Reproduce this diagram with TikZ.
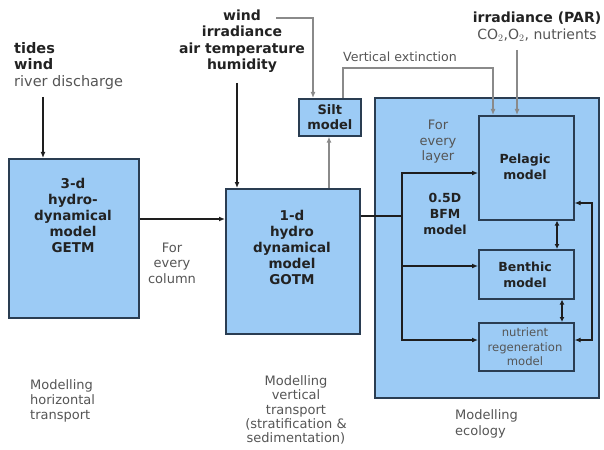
\documentclass[tikz,border=0pt]{standalone}
\usepackage{fontspec}
\setmainfont{DejaVu Sans}
\usetikzlibrary{arrows.meta}
\definecolor{boxfill}{HTML}{9CCBF5}
\definecolor{boxline}{HTML}{2A3D52}
\definecolor{conn}{HTML}{1E1E1E}
\definecolor{greyconn}{HTML}{8A8A8A}
\definecolor{txt}{HTML}{222222}
\definecolor{txtgrey}{HTML}{555555}
\tikzset{
  mbox/.style={draw=boxline, fill=boxfill, line width=1.6pt, inner sep=0pt},
  lbl/.style={align=center, inner sep=0pt, text=txt, font=\fontsize{14}{16.5}\selectfont\bfseries},
  boxlbl/.style={align=center, inner sep=0pt, text=txt, font=\fontsize{13.5}{16}\selectfont\bfseries},
  inlbl/.style={align=center, inner sep=0pt, text=txt, font=\fontsize{12.5}{16.5}\selectfont\bfseries},
  plain/.style={align=center, inner sep=0pt, text=txtgrey, font=\fontsize{13}{15.5}\selectfont},
  small/.style={align=center, inner sep=0pt, text=txtgrey, font=\fontsize{13}{15}\selectfont},
  conn/.style={draw=conn, line width=1.3pt, -{Latex[length=6pt,width=5pt]}},
  gconn/.style={draw=greyconn, line width=1.2pt, -{Latex[length=6pt,width=5pt]}},
}
\begin{document}
\begin{tikzpicture}[x=1pt,y=-1pt]
\useasboundingbox (0,0) rectangle (604,449);
% boxes
\node[mbox, minimum width=130pt, minimum height=159pt, anchor=north west] (getm) at (8,158) {};
\node[mbox, minimum width=134pt, minimum height=145pt, anchor=north west] (gotm) at (225,188) {};
\node[mbox, minimum width=62pt, minimum height=37pt, anchor=north west] (silt) at (298,98) {};
\node[mbox, minimum width=224pt, minimum height=300pt, anchor=north west] (eco) at (374,97) {};
\node[mbox, minimum width=95pt, minimum height=104pt, anchor=north west] (pel) at (478,115) {};
\node[mbox, minimum width=95pt, minimum height=49pt, anchor=north west] (ben) at (478,249) {};
\node[mbox, minimum width=95pt, minimum height=48pt, anchor=north west] (nut) at (478,322) {};
% box texts
\node[boxlbl] (getmt) at (73,215) {3-d\\hydro-\\dynamical\\model\\GETM};
\node[boxlbl] (gotmt) at (292,247) {1-d\\hydro\\dynamical\\model\\GOTM};
\node[inlbl, font=\fontsize{13}{15}\selectfont\bfseries] (siltt) at (silt.center) {Silt\\model};
\node[inlbl] (pelt) at (525,167) {Pelagic\\model};
\node[inlbl] (bent) at (525,275) {Benthic\\model};
\node[small, font=\fontsize{11.6}{14.5}\selectfont] (nutt) at (525,347) {nutrient\\regeneration\\model};
\node[inlbl, font=\fontsize{12.5}{16}\selectfont\bfseries] (bfm) at (445,214) {0.5D\\BFM\\model};
\node[plain] (layer) at (438,142) {For\\every\\layer};
% outside texts
\node[lbl, align=left, anchor=west, font=\fontsize{14.5}{16.5}\selectfont\bfseries] (tides) at (14,66) {tides\\wind\\\mdseries\color{txtgrey}river discharge};
\node[lbl] (atm) at (242,41) {wind\\irradiance\\air temperature\\humidity};
\node[lbl] (par) at (537,27) {irradiance (PAR)\\\mdseries\color{txtgrey}CO$_2$,O$_2$, nutrients};
\node[small, font=\fontsize{12.6}{15}\selectfont] (vext) at (400,57) {Vertical extinction};
\node[plain] (col) at (172,263) {For\\every\\column};
\node[small, align=left, anchor=west, font=\fontsize{13}{15}\selectfont] (mh) at (30,401) {Modelling\\horizontal\\transport};
\node[small, font=\fontsize{13}{14.2}\selectfont] (mv) at (296,410) {Modelling\\vertical\\transport\\(stratification \&\\sedimentation)};
\node[small, align=left, anchor=west, font=\fontsize{13}{16}\selectfont] (me) at (455,424) {Modelling\\ecology};
% coordinates
\coordinate (tidesend) at (43,97);
\coordinate (atmend) at (237,83);
\coordinate (windend) at (276,18);
\coordinate (parend) at (517,50);
% connectors
\draw[conn] (tidesend) -- (tidesend |- getm.north);
\draw[conn] (atmend) -- (atmend |- gotm.north);
\draw[gconn] (windend) -| (silt.north -| 313,0);
\draw[gconn] (gotm.north -| 329,0) -- (silt.south -| 329,0);
\draw[gconn] (silt.north -| 343,0) |- (493,68) -- (pel.north -| 493,0);
\draw[gconn] (parend) -- (pel.north -| parend);
\draw[conn] (getm.east |- 0,219) -- (gotm.west |- 0,219);
\draw[conn] (gotm.east |- 0,216) -- (402,216) |- (pel.west |- 0,173);
\draw[conn] (402,216) |- (ben.west |- 0,266);
\draw[conn] (402,266) |- (nut.west |- 0,340);
\draw[conn, {Latex[length=5pt,width=5pt]}-{Latex[length=5pt,width=5pt]}] (pel.south -| 557,0) -- (ben.north -| 557,0);
\draw[conn, {Latex[length=5pt,width=5pt]}-{Latex[length=5pt,width=5pt]}] (ben.south -| 562,0) -- (nut.north -| 562,0);
\draw[conn, {Latex[length=6pt,width=5pt]}-{Latex[length=6pt,width=5pt]}, line width=1.1pt] (pel.east |- 0,203) -| (592,270) |- (nut.east |- 0,340);
\end{tikzpicture}
\end{document}
